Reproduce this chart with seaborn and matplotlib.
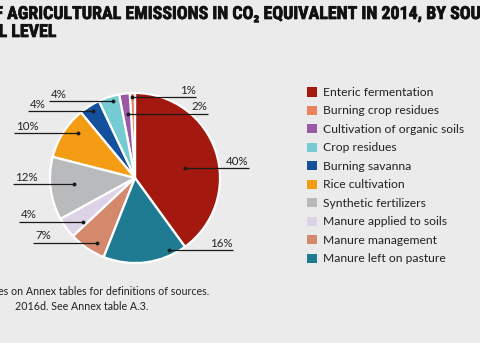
import matplotlib
matplotlib.use("Agg")
import matplotlib.pyplot as plt
import matplotlib.patheffects as pe
import seaborn as sns
import numpy as np
from matplotlib.patches import Patch
from matplotlib import font_manager

# ---------------- data ----------------
categories = ["Enteric fermentation", "Burning crop residues", "Cultivation of organic soils",
              "Crop residues", "Burning savanna", "Rice cultivation", "Synthetic fertilizers",
              "Manure applied to soils", "Manure management", "Manure left on pasture"]
shares = [40, 1, 2, 4, 4, 10, 12, 4, 7, 16]
pct_labels = ["40%", "1%", "2%", "4%", "4%", "10%", "12%", "4%", "7%", "16%"]
title_line1 = "OF AGRICULTURAL EMISSIONS IN CO\u2082 EQUIVALENT IN 2014, BY SOURCE,"
title_line2 = "AT GLOBAL LEVEL"
note_line = "Note: See notes on Annex tables for definitions of sources."
source_line = "2016d. See Annex table A.3."

# ---------------- style ----------------
colors = ["#a3180f", "#e9845f", "#9a5aa6", "#74cbd2", "#14509c", "#f49c13",
          "#b9babc", "#ddd3e6", "#d4896c", "#1f7b91"]
palette = sns.color_palette(colors)
BG = "#ebebeb"

sns.set_theme(style="white")
plt.rcParams["font.family"] = ["Lato", "DejaVu Sans"]

available = {f.name for f in font_manager.fontManager.ttflist}
title_font = "DejaVu Sans"
for cand in ["Roboto Condensed", "Liberation Sans Narrow", "DejaVu Sans Condensed"]:
    if cand in available:
        title_font = cand
        break

W, H = 480, 343
fig = plt.figure(figsize=(W / 100, H / 100), dpi=100, facecolor=BG)
ax = fig.add_axes([0, 0, 1, 1])
ax.set_facecolor(BG)

CX, CY, R = 135, H - 178, 85
wedges, _ = ax.pie(shares, colors=palette, startangle=-54, counterclock=True,
                   radius=R, center=(CX, CY),
                   wedgeprops=dict(edgecolor="white", linewidth=1.6))
ax.set_xlim(0, W)
ax.set_ylim(0, H)
ax.set_aspect("auto")
ax.axis("off")

# label layout: angle nudge (deg), anchor radius fraction, direction, line length (px)
lab_dtheta = [-7, 0, -1, -2, 0, -6, -1.5, 4, 4, 18]
lab_rfrac = [0.60, 0.95, 0.76, 0.94, 0.93, 0.85, 0.72, 0.80, 0.88, 0.94]
lab_dir = [1, 1, 1, -1, -1, -1, -1, -1, -1, 1]
lab_len = [64, 64, 80, 64, 65, 64, 61, 64, 64, 64]

for w, txt, dth, rf, d, L in zip(wedges, pct_labels, lab_dtheta, lab_rfrac, lab_dir, lab_len):
    mid = np.deg2rad((w.theta1 + w.theta2) / 2 + dth)
    ax0 = CX + rf * R * np.cos(mid)
    ay0 = CY + rf * R * np.sin(mid)
    x1 = ax0 + d * L
    ax.plot([ax0, x1], [ay0, ay0], color="#1a1a1a", lw=0.9, solid_capstyle="butt", zorder=5)
    ax.plot([ax0], [ay0], marker="o", ms=1.8, color="#1a1a1a", zorder=6)
    if d < 0:
        ax.text(x1 + 2, ay0 + 1.5, txt, ha="left", va="bottom", fontsize=8.3, color="#222222")
    else:
        ax.text(x1 - 1, ay0 + 1.5, txt, ha="right", va="bottom", fontsize=8.3, color="#222222")

# legend
handles = [Patch(facecolor=c, edgecolor="none") for c in palette]
leg = ax.legend(handles, categories, loc="upper left", bbox_to_anchor=(307, H - 87),
                bbox_transform=ax.transData, frameon=False, fontsize=8.7,
                handlelength=0.82, handleheight=0.82, handletextpad=0.5,
                labelspacing=0.62, borderpad=0, borderaxespad=0)
for t in leg.get_texts():
    t.set_color("#222222")

# title and footnotes, positioned so the visible part matches the cropped reference
fig.canvas.draw()
renderer = fig.canvas.get_renderer()

def width_px(s, **kw):
    t = ax.text(0, 0, s, **kw)
    bb = t.get_window_extent(renderer=renderer)
    t.remove()
    return bb.width

def prefix_px(prefix, word, **kw):
    return width_px(prefix + word, **kw) - width_px(word, **kw)

tkw = dict(fontsize=12.9, fontweight="heavy", family=[title_font, "DejaVu Sans"], color="#111111")
stroke = [pe.withStroke(linewidth=0.5, foreground="#111111")]
pre1 = prefix_px("OF ", "AGRICULTURAL", **tkw)
ax.text(7 - pre1, H - 19, title_line1, ha="left", va="baseline", path_effects=stroke, **tkw)
pre2 = prefix_px("AT GLOBAL ", "LEVEL", **tkw)
ax.text(11 - pre2, H - 37, title_line2, ha="left", va="baseline", path_effects=stroke, **tkw)

fkw = dict(fontsize=7.7, color="#222222")
pre3 = prefix_px("Note: See not", "es", **fkw)
ax.text(-2 - pre3, H - 295, note_line, ha="left", va="baseline", **fkw)
ax.text(15, H - 310, source_line, ha="left", va="baseline", **fkw)

fig.savefig("out.png", dpi=100, facecolor=BG)
